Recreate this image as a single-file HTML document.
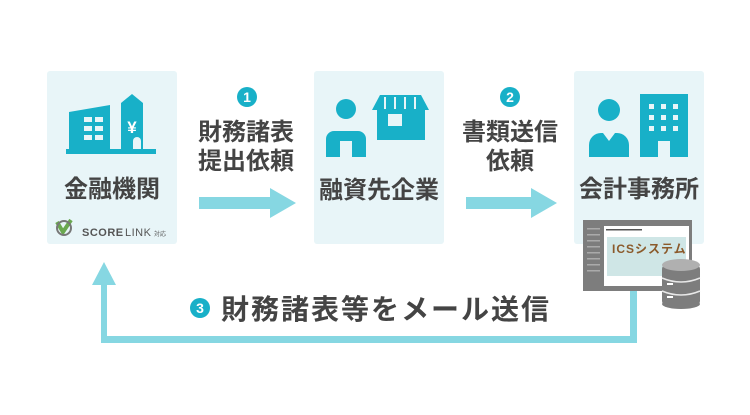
<!DOCTYPE html>
<html><head><meta charset="utf-8">
<style>
html,body{margin:0;padding:0;background:#fff;}
body{width:750px;height:410px;overflow:hidden;font-family:"Liberation Sans","Noto Sans CJK JP",sans-serif;}
text{font-family:"Liberation Sans","Noto Sans CJK JP",sans-serif;}
</style></head><body>
<svg width="750" height="410" viewBox="0 0 750 410" xmlns="http://www.w3.org/2000/svg">
<rect x="47" y="71" width="130" height="173" rx="3" fill="#e8f5f8"/>
<rect x="314" y="71" width="130" height="173" rx="3" fill="#e8f5f8"/>
<rect x="574" y="71" width="130" height="173" rx="3" fill="#e8f5f8"/>

<g fill="#18b0c8">
<path d="M69 112 L110 105 L110 150 L69 150 Z"/>
<path d="M121 103 L132 94 L143 103 L143 150 L121 150 Z"/>
<rect x="66" y="149" width="90" height="5"/>
</g>
<g fill="#e8f5f8">
<rect x="84" y="117" width="8" height="5"/><rect x="95" y="117" width="8" height="5"/>
<rect x="84" y="126" width="8" height="5"/><rect x="95" y="126" width="8" height="5"/>
<rect x="84" y="135" width="8" height="5"/><rect x="95" y="135" width="8" height="5"/>
<path d="M133 149 v-8 a4 4 0 0 1 8 0 v8 z"/>
</g>
<text x="132" y="133" font-size="17" font-weight="bold" fill="#fff" text-anchor="middle">¥</text>

<g fill="#18b0c8">
<circle cx="346" cy="109" r="10"/>
<path d="M326 157 v-18 a8 8 0 0 1 8-8 h24 a8 8 0 0 1 8 8 v18 z"/>
<path d="M372 110 L380 95 L421 95 L429 110 Z"/>
<rect x="377" y="110" width="48" height="30"/>
</g>
<g fill="#e8f5f8">
<rect x="340" y="141" width="12" height="16"/>
<rect x="388" y="114" width="14" height="12"/>
<rect x="384" y="97" width="2" height="12"/><rect x="394" y="97" width="2" height="12"/><rect x="404" y="97" width="2" height="12"/><rect x="414" y="97" width="2" height="12"/>
</g>

<g fill="#18b0c8">
<circle cx="609" cy="110" r="11"/>
<path d="M589 157 v-12 a12 12 0 0 1 12-12 h16 a12 12 0 0 1 12 12 v12 z"/>
<rect x="640" y="94" width="48" height="63"/>
</g>
<g fill="#e8f5f8">
<rect x="649" y="104" width="5" height="5"/><rect x="661" y="104" width="5" height="5"/><rect x="673" y="104" width="5" height="5"/>
<rect x="649" y="115" width="5" height="5"/><rect x="661" y="115" width="5" height="5"/><rect x="673" y="115" width="5" height="5"/>
<rect x="649" y="126" width="5" height="5"/><rect x="661" y="126" width="5" height="5"/><rect x="673" y="126" width="5" height="5"/>
<rect x="658" y="141" width="12" height="16"/>
<path d="M603 133 l6 8 l6 -8 z"/>
</g>

<g font-size="24" font-weight="bold" fill="#444" text-anchor="middle">
<text x="112" y="197">金融機関</text>
<text x="379" y="198">融資先企業</text>
<text x="639" y="197">会計事務所</text>
<text x="246" y="140">財務諸表</text>
<text x="246" y="169">提出依頼</text>
<text x="510" y="140">書類送信</text>
<text x="510" y="169">依頼</text>
</g>

<circle cx="247" cy="97" r="10" fill="#18b0c8"/><text x="247" y="102" font-size="14" font-weight="bold" fill="#fff" text-anchor="middle">1</text>
<circle cx="510" cy="97" r="10" fill="#18b0c8"/><text x="510" y="102" font-size="14" font-weight="bold" fill="#fff" text-anchor="middle">2</text>

<g fill="#86d7e2">
<path d="M199 197 H270 V188 L296 203 L270 218 V209 H199 Z"/>
<path d="M466 197 H531 V188 L557 203 L531 218 V209 H466 Z"/>
<path d="M101 285 H92 L104 262 L116 285 H107 V336 H630 V285 H637 V343 H101 Z"/>
</g>

<path d="M57 222 l6 10 l8 -12" stroke="#6aa84f" stroke-width="4" fill="none"/>
<circle cx="64" cy="228" r="7" fill="none" stroke="#777" stroke-width="2"/>
<text x="82" y="236" font-size="11" font-weight="bold" fill="#555" letter-spacing="0.5">SCORE</text>
<text x="125" y="236" font-size="11" fill="#555" letter-spacing="0.5">LINK</text>
<text x="154" y="236" font-size="6" fill="#555">対応</text>

<rect x="583" y="220" width="109" height="71" fill="#7d7d7d"/>
<rect x="604" y="226" width="85" height="60" fill="#fff"/>
<rect x="607" y="237" width="79" height="39" fill="#cfe6e6"/>
<g fill="#aaa"><rect x="587" y="228" width="13" height="1.5"/><rect x="587" y="234" width="13" height="1.5"/><rect x="587" y="240" width="13" height="1.5"/><rect x="587" y="246" width="13" height="1.5"/><rect x="587" y="252" width="13" height="1.5"/><rect x="587" y="258" width="13" height="1.5"/><rect x="587" y="264" width="13" height="1.5"/><rect x="587" y="270" width="13" height="1.5"/></g>
<rect x="606" y="229" width="36" height="1.5" fill="#555"/>
<text x="612" y="253" font-size="12" font-weight="bold" fill="#8b5a2b" letter-spacing="1">ICSシステム</text>

<g>
<rect x="662" y="265" width="38" height="40" rx="4" fill="#7d7d7d"/>
<ellipse cx="681" cy="304" rx="19" ry="5" fill="#7d7d7d"/>
<ellipse cx="681" cy="265" rx="19" ry="6" fill="#b0b0b0"/>
<path d="M662 278 q19 8 38 0 M662 291 q19 8 38 0" stroke="#e8e8e8" stroke-width="1.5" fill="none"/>
<rect x="667" y="283" width="6" height="2" fill="#fff"/><rect x="667" y="296" width="6" height="2" fill="#fff"/>
</g>

<circle cx="200" cy="308" r="10" fill="#18b0c8"/><text x="200" y="313" font-size="14" font-weight="bold" fill="#fff" text-anchor="middle">3</text>
<text x="221" y="319" font-size="28" font-weight="bold" fill="#444" letter-spacing="2">財務諸表等をメール送信</text>
</svg>
</body></html>
